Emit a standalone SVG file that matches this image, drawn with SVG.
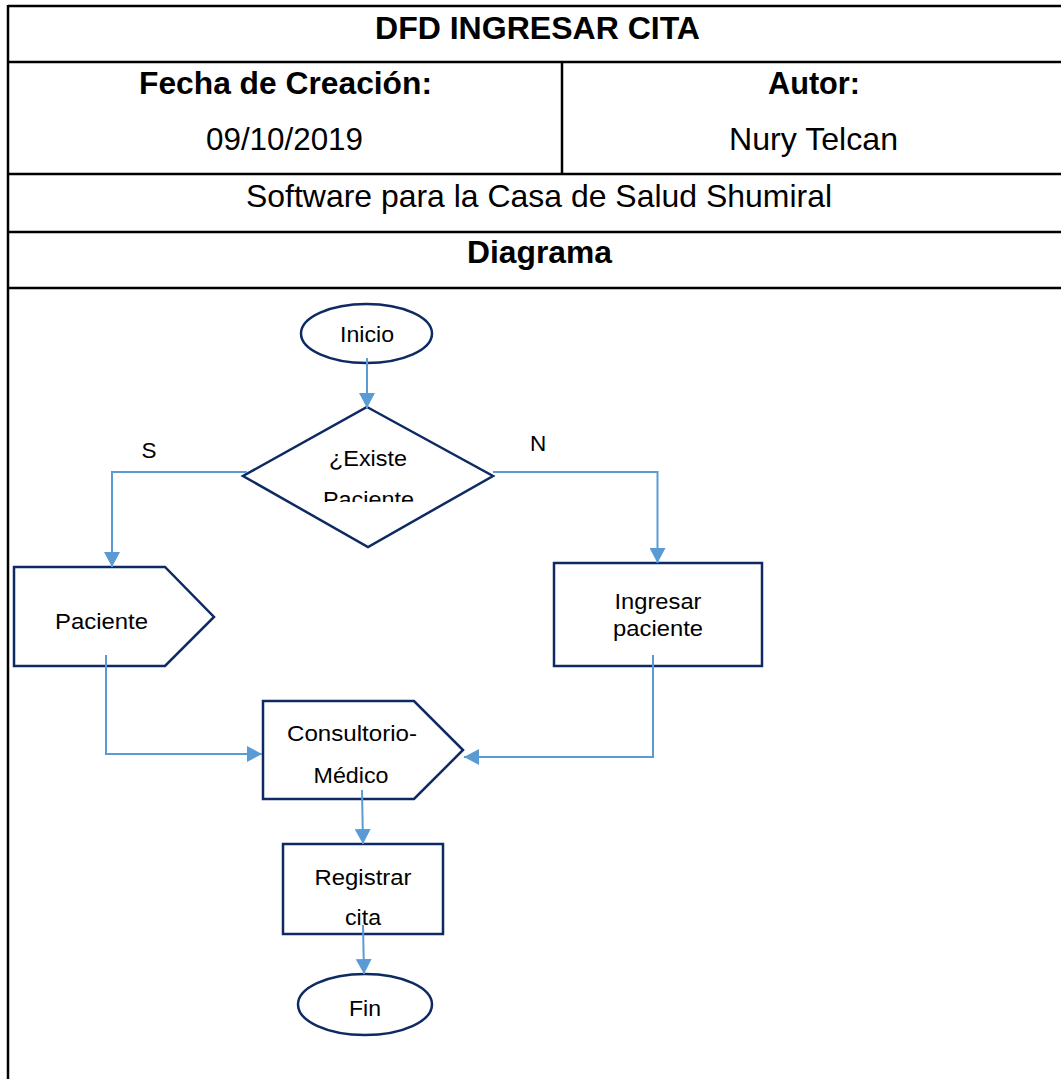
<svg xmlns="http://www.w3.org/2000/svg" width="1061" height="1079" viewBox="0 0 1061 1079">
<style>
.t{font-family:"Liberation Sans",Arial,sans-serif;font-size:32px;fill:#000;text-anchor:middle}
.b{font-weight:bold}
.f{font-family:"Liberation Sans",Arial,sans-serif;font-size:22.5px;fill:#000;text-anchor:middle}
.grid{stroke:#000;stroke-width:2.5;fill:none}
.node{fill:#fff;stroke:#0d2a63;stroke-width:2.5}
.conn{fill:none;stroke:#5b9bd5;stroke-width:2}
</style>
<defs>
<marker id="arr" markerUnits="userSpaceOnUse" markerWidth="16" markerHeight="16" viewBox="0 0 16 16" refX="15" refY="8" orient="auto">
<path d="M0,0 L15,8 L0,16 Z" fill="#5b9bd5"/>
</marker>
<clipPath id="clipD"><rect x="300" y="440" width="140" height="62"/></clipPath>
</defs>
<rect width="1061" height="1079" fill="#fff"/>
<g id="table">
<line class="grid" x1="8" y1="6" x2="1061" y2="6"/>
<line class="grid" x1="8" y1="62" x2="1061" y2="62"/>
<line class="grid" x1="8" y1="174" x2="1061" y2="174"/>
<line class="grid" x1="8" y1="232" x2="1061" y2="232"/>
<line class="grid" x1="8" y1="288" x2="1061" y2="288"/>
<line class="grid" x1="8" y1="5" x2="8" y2="1079"/>
<line class="grid" x1="562" y1="62" x2="562" y2="174"/>
<text class="t b" x="537.5" y="39" textLength="325" lengthAdjust="spacingAndGlyphs">DFD INGRESAR CITA</text>
<text class="t b" x="285.5" y="94" textLength="293" lengthAdjust="spacingAndGlyphs">Fecha de Creación:</text>
<text class="t" x="284.5" y="150" textLength="157" lengthAdjust="spacingAndGlyphs">09/10/2019</text>
<text class="t b" x="814" y="94" textLength="92" lengthAdjust="spacingAndGlyphs">Autor:</text>
<text class="t" x="813.5" y="150" textLength="169" lengthAdjust="spacingAndGlyphs">Nury Telcan</text>
<text class="t" x="539" y="207" textLength="586" lengthAdjust="spacingAndGlyphs">Software para la Casa de Salud Shumiral</text>
<text class="t b" x="539.5" y="263" textLength="145" lengthAdjust="spacingAndGlyphs">Diagrama</text>
</g>
<g id="inicio">
<ellipse class="node" cx="366.5" cy="333.5" rx="65.5" ry="29.5"/>
<text class="f" x="367" y="342" textLength="54" lengthAdjust="spacingAndGlyphs">Inicio</text>
</g>
<g id="decision">
<polygon class="node" points="367,407 493,476 368,547 243,476"/>
<text class="f" x="368" y="466" textLength="78" lengthAdjust="spacingAndGlyphs">¿Existe</text>
<text class="f" x="368.5" y="507" textLength="91" lengthAdjust="spacingAndGlyphs" clip-path="url(#clipD)">Paciente</text>
</g>
<g id="paciente">
<polygon class="node" points="14,567 165,567 214,617 165,666 14,666"/>
<text class="f" x="101.5" y="629" textLength="93" lengthAdjust="spacingAndGlyphs">Paciente</text>
</g>
<g id="ingresar">
<rect class="node" x="554" y="563" width="208" height="103"/>
<text class="f" x="658" y="609" textLength="87" lengthAdjust="spacingAndGlyphs">Ingresar</text>
<text class="f" x="658" y="636" textLength="90" lengthAdjust="spacingAndGlyphs">paciente</text>
</g>
<g id="consultorio">
<polygon class="node" points="263,701 414,701 463,750 414,799 263,799"/>
<text class="f" x="352" y="741" textLength="130" lengthAdjust="spacingAndGlyphs">Consultorio-</text>
<text class="f" x="351" y="783" textLength="75" lengthAdjust="spacingAndGlyphs">Médico</text>
</g>
<g id="registrar">
<rect class="node" x="283" y="844" width="160" height="90"/>
<text class="f" x="363" y="885" textLength="97" lengthAdjust="spacingAndGlyphs">Registrar</text>
<text class="f" x="363" y="925" textLength="36" lengthAdjust="spacingAndGlyphs">cita</text>
</g>
<g id="fin">
<ellipse class="node" cx="365" cy="1004.5" rx="67" ry="30.5"/>
<text class="f" x="365" y="1016" textLength="32" lengthAdjust="spacingAndGlyphs">Fin</text>
</g>
<g id="labels">
<text class="f" x="149" y="458">S</text>
<text class="f" x="538" y="451">N</text>
</g>
<g id="connectors">
<path class="conn" d="M367,358 L367,408" marker-end="url(#arr)"/>
<path class="conn" d="M247,472 L112,472 L112,567" marker-end="url(#arr)"/>
<path class="conn" d="M493,472 L657.5,472 L657.5,563" marker-end="url(#arr)"/>
<path class="conn" d="M106,655 L106,754 L262,754" marker-end="url(#arr)"/>
<path class="conn" d="M653,655 L653,757 L464,757" marker-end="url(#arr)"/>
<path class="conn" d="M362,790 L363,844" marker-end="url(#arr)"/>
<path class="conn" d="M363,925 L364,974" marker-end="url(#arr)"/>
</g>
</svg>
